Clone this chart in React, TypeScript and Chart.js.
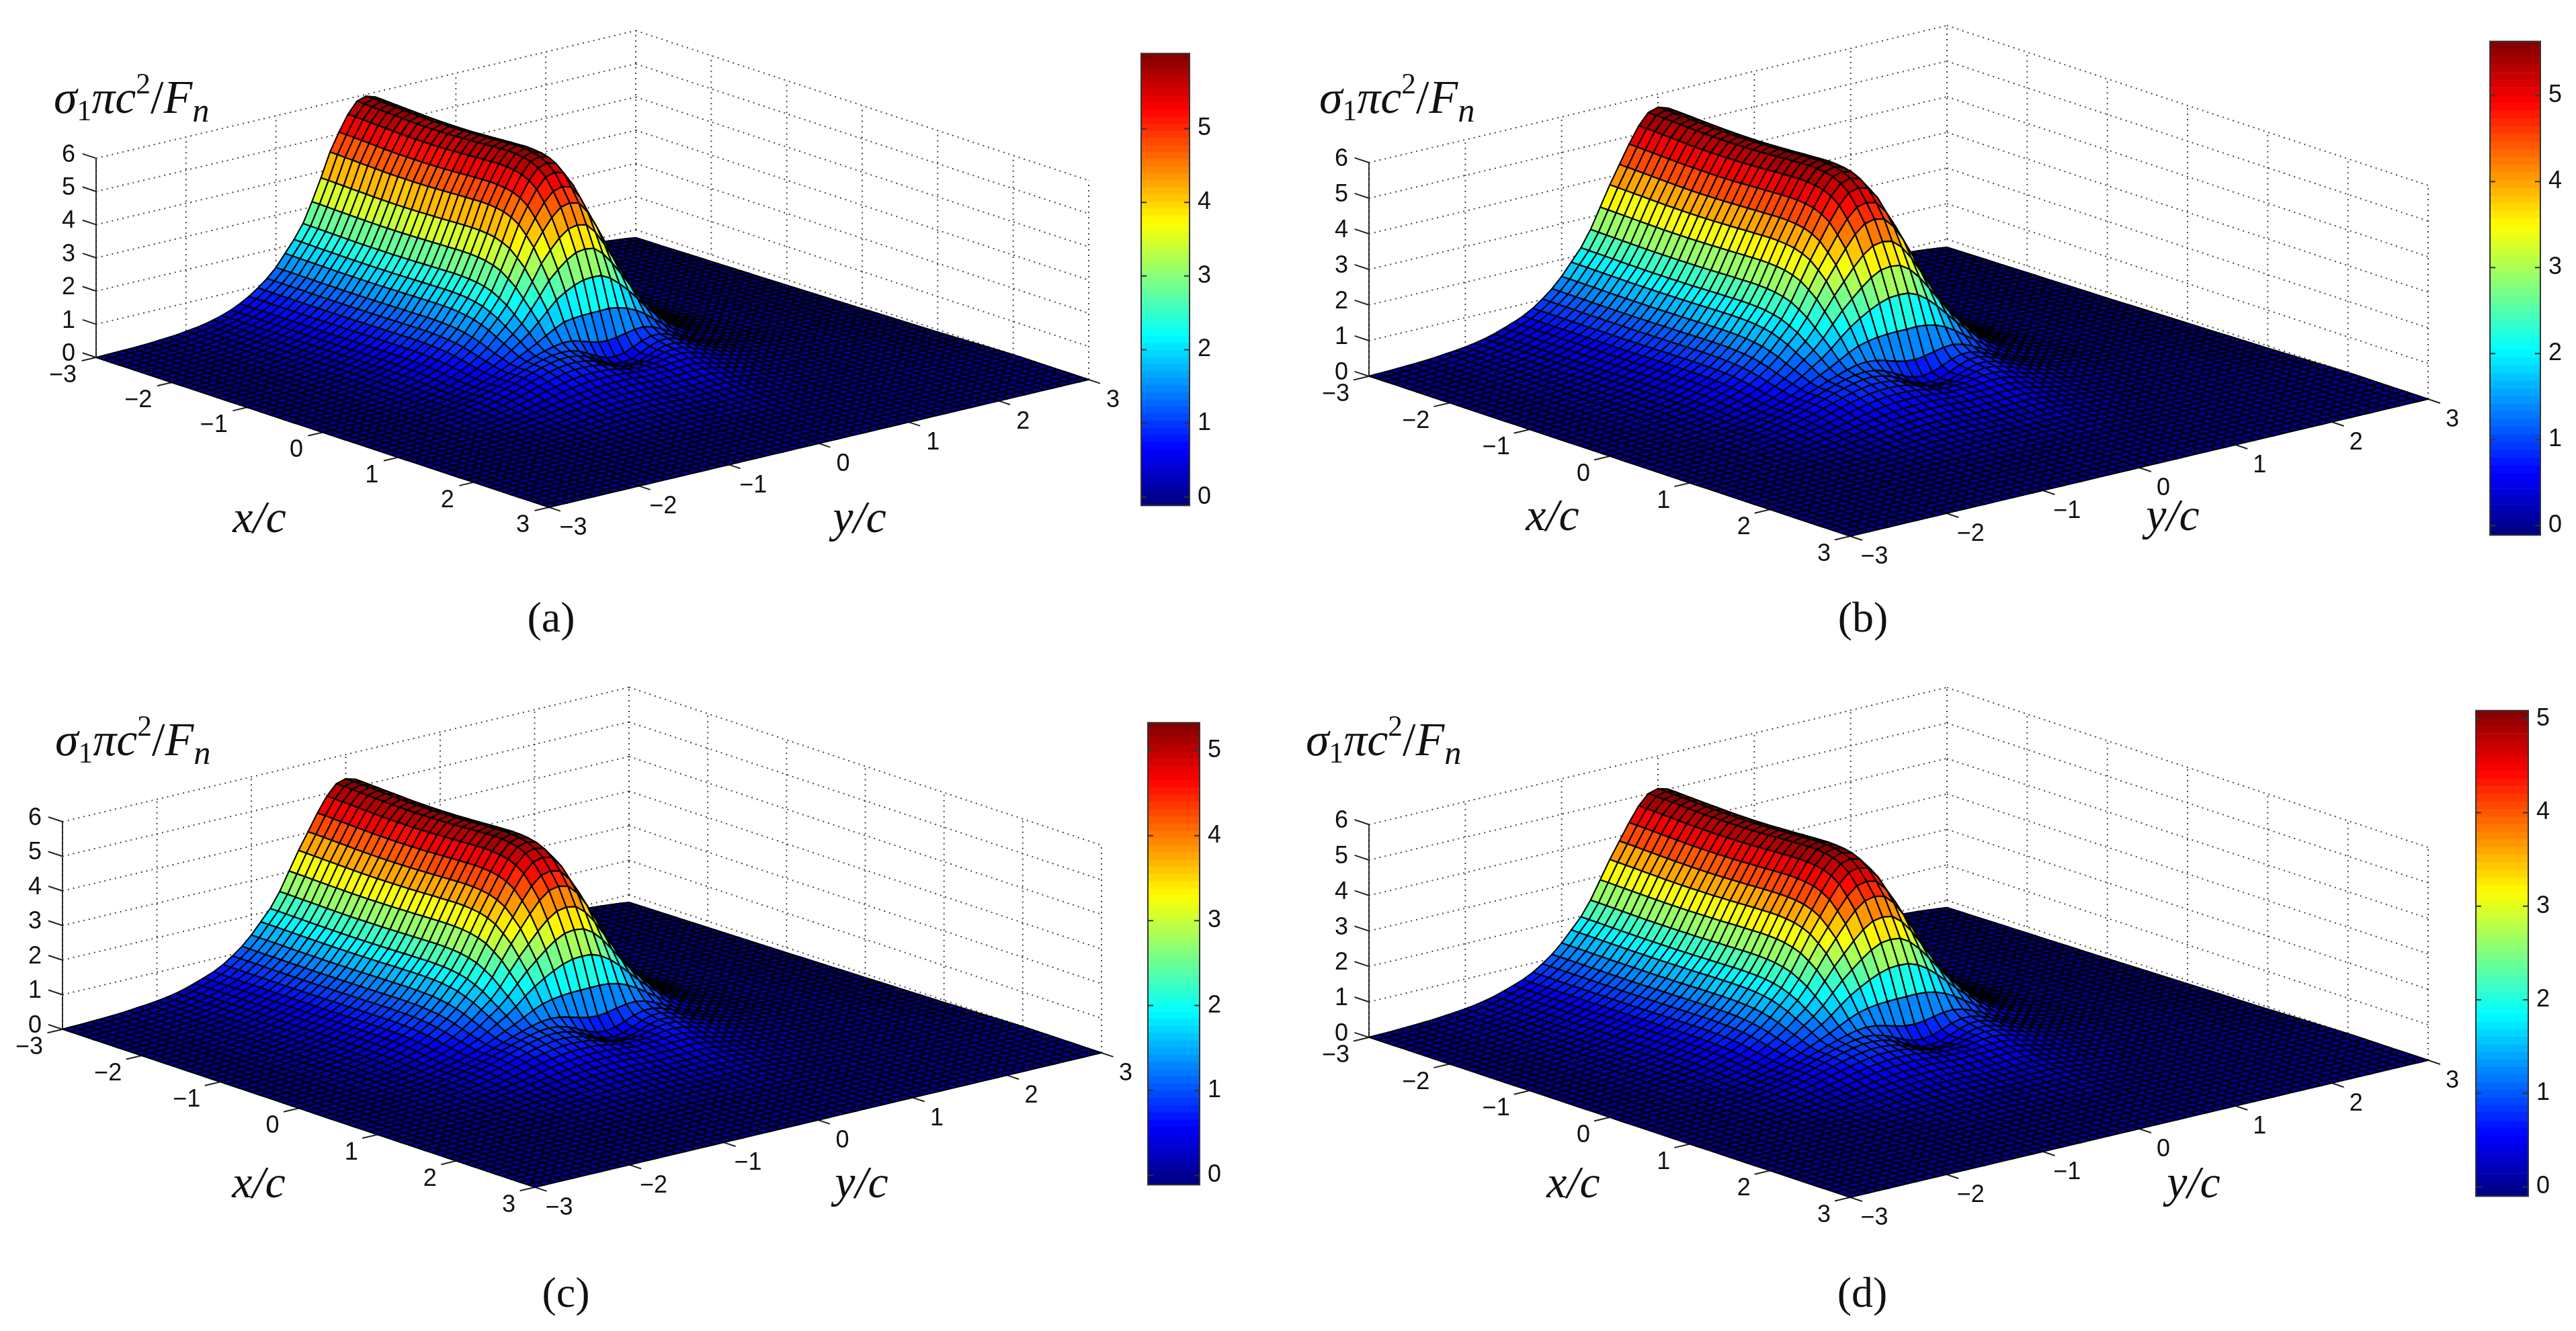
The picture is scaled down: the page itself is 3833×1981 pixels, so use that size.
import React, { useEffect, useRef } from "react";
import { Chart, registerables } from "chart.js";
Chart.register(...registerables);

const PAGE_W = 3833;
const PAGE_H = 1981;
const SERIF = '"Liberation Serif"';
const SANS = '"Liberation Sans"';

// Axis ticks as printed in the figure
const xyTicks = [-3, -2, -1, 0, 1, 2, 3];
const zTicks = [0, 1, 2, 3, 4, 5, 6];
const barTicks = [0, 1, 2, 3, 4, 5];

// Mesh stations (x/c and y/c), one every 0.1 from -3 to 3
const gridStations = [
  -3, -2.9, -2.8, -2.7, -2.6, -2.5, -2.4, -2.3, -2.2, -2.1, -2, -1.9, -1.8, -1.7, -1.6, -1.5, -1.4, -1.3, -1.2, -1.1,
  -1, -0.9, -0.8, -0.7, -0.6, -0.5, -0.4, -0.3, -0.2, -0.1, 0, 0.1, 0.2, 0.3, 0.4, 0.5, 0.6, 0.7, 0.8, 0.9, 1, 1.1,
  1.2, 1.3, 1.4, 1.5, 1.6, 1.7, 1.8, 1.9, 2, 2.1, 2.2, 2.3, 2.4, 2.5, 2.6, 2.7, 2.8, 2.9, 3,
];

// Ridge height read along x/c (share of the peak)
const ridgeAlongX = [
  1, 0.999, 0.997, 0.995, 0.993, 0.991, 0.989, 0.987, 0.986, 0.985, 0.985, 0.985, 0.986, 0.987, 0.989, 0.991, 0.993,
  0.996, 0.998, 1, 1.002, 1, 0.995, 0.985, 0.965, 0.93, 0.87, 0.8, 0.7, 0.59, 0.46, 0.3, 0.16, 0.085, 0.05, 0.03,
  0.02, 0.014, 0.01, 0.008, 0.006, 0.005, 0.004, 0.004, 0.003, 0.003, 0.002, 0.002, 0.002, 0.002, 0.001, 0.001, 0.001,
  0.001, 0.001, 0.001, 0.001, 0, 0, 0, 0,
];
// Ridge section read along y/c: panel (a)
const sectionA = [
  0, 0.001, 0.002, 0.003, 0.004, 0.006, 0.008, 0.011, 0.014, 0.018, 0.024, 0.03, 0.038, 0.049, 0.062, 0.079, 0.1,
  0.126, 0.158, 0.195, 0.24, 0.3, 0.36, 0.43, 0.53, 0.64, 0.76, 0.85, 0.93, 0.985, 1, 0.985, 0.91, 0.8, 0.68, 0.56,
  0.44, 0.35, 0.27, 0.205, 0.155, 0.115, 0.082, 0.058, 0.04, 0.025, 0.015, 0.008, 0.004, 0.002, 0.001, 0, 0, 0, 0, 0,
  0, 0, 0, 0, 0,
];
// Ridge section read along y/c: panels (b), (c), (d)
const sectionBCD = [
  0.001, 0.002, 0.003, 0.005, 0.007, 0.009, 0.012, 0.016, 0.021, 0.026, 0.032, 0.04, 0.05, 0.063, 0.08, 0.098, 0.118,
  0.145, 0.18, 0.22, 0.27, 0.33, 0.39, 0.47, 0.57, 0.67, 0.76, 0.85, 0.93, 0.985, 1, 0.985, 0.92, 0.82, 0.7, 0.58,
  0.47, 0.38, 0.3, 0.23, 0.175, 0.13, 0.095, 0.065, 0.045, 0.028, 0.016, 0.009, 0.005, 0.002, 0.001, 0, 0, 0, 0, 0, 0,
  0, 0, 0, 0,
];
// Two lobes ahead of the ridge end, along x/c and along y/c
const lobesAlongX = [
  0, 0, 0, 0, 0, 0, 0, 0, 0, 0, 0, 0, 0, 0, 0, 0, 0, 0, 0, 0, 0, 0, 0, 0, 0, 0.02, 0.05, 0.09, 0.15, 0.24, 0.38, 0.58,
  0.8, 0.95, 1, 0.97, 0.9, 0.8, 0.7, 0.6, 0.52, 0.44, 0.37, 0.31, 0.26, 0.21, 0.17, 0.14, 0.11, 0.09, 0.07, 0.055,
  0.045, 0.035, 0.027, 0.02, 0.015, 0.01, 0.006, 0.003, 0,
];
const lobesAlongY = [
  0, 0.005, 0.01, 0.015, 0.02, 0.03, 0.04, 0.055, 0.07, 0.09, 0.12, 0.15, 0.19, 0.24, 0.3, 0.37, 0.45, 0.54, 0.64, 0.74,
  0.83, 0.91, 0.97, 1, 0.97, 0.88, 0.72, 0.5, 0.27, 0.1, 0.05, 0.12, 0.3, 0.52, 0.7, 0.78, 0.76, 0.68, 0.58, 0.48, 0.39,
  0.31, 0.24, 0.19, 0.15, 0.12, 0.09, 0.07, 0.05, 0.04, 0.03, 0.02, 0.015, 0.01, 0.007, 0.005, 0.003, 0.002, 0.001, 0, 0,
];
const lobeShare = 0.15;
// The valley between the lobes closes beyond the small pit
const valleyAlongX = [
  0, 0, 0, 0, 0, 0, 0, 0, 0, 0, 0, 0, 0, 0, 0, 0, 0, 0, 0, 0, 0, 0, 0, 0, 0, 0, 0, 0, 0, 0, 0, 0, 0, 0.05, 0.2, 0.4, 0.6,
  0.7, 0.72, 0.68, 0.6, 0.5, 0.42, 0.35, 0.29, 0.23, 0.18, 0.15, 0.12, 0.09, 0.07, 0.055, 0.045, 0.035, 0.027, 0.02,
  0.015, 0.01, 0.006, 0.003, 0,
];
const valleyAlongY = [
  0, 0, 0, 0, 0, 0, 0, 0, 0, 0, 0, 0, 0, 0, 0, 0, 0, 0, 0, 0, 0, 0, 0, 0.02, 0.07, 0.18, 0.35, 0.55, 0.75, 0.9, 1, 0.9,
  0.75, 0.55, 0.35, 0.18, 0.07, 0.02, 0, 0, 0, 0, 0, 0, 0, 0, 0, 0, 0, 0, 0, 0, 0, 0, 0, 0, 0, 0, 0, 0, 0,
];
const valleyShare = 0.12;
// The far rim sits slightly below the floor line near the back corner
const rimAlongX = [
  1, 0.985, 0.97, 0.955, 0.94, 0.925, 0.91, 0.895, 0.88, 0.865, 0.85, 0.835, 0.82, 0.805, 0.79, 0.775, 0.76, 0.745, 0.73,
  0.715, 0.7, 0.68, 0.66, 0.64, 0.62, 0.6, 0.58, 0.56, 0.54, 0.52, 0.5, 0.48, 0.46, 0.44, 0.42, 0.4, 0.38, 0.36, 0.34,
  0.32, 0.3, 0.27, 0.24, 0.21, 0.18, 0.15, 0.12, 0.09, 0.06, 0.03, 0.01, 0, 0, 0, 0, 0, 0, 0, 0, 0, 0,
];
const rimAlongY = [
  0, 0, 0, 0, 0, 0, 0, 0, 0, 0, 0, 0, 0, 0, 0, 0, 0, 0, 0, 0, 0, 0, 0, 0, 0, 0, 0, 0, 0, 0, 0, 0, 0, 0, 0, 0, 0, 0, 0, 0,
  0, 0, 0, 0, 0, 0.01, 0.02, 0.04, 0.06, 0.08, 0.11, 0.15, 0.2, 0.26, 0.33, 0.41, 0.5, 0.6, 0.72, 0.85, 1,
];
const rimShare = 0.04;

// Peak value and colour range of each panel
const panelNames = ["(a)", "(b)", "(c)", "(d)"];
const panelPeaks = [5.95, 5.63, 5.3, 5.08];
const barMins = [-0.115, -0.11, -0.11, -0.1];
const barMaxes = [6.02, 5.63, 5.33, 5.09];

// Layout of each panel, in page pixels
const layouts = [
  { L: [143, 532], F: [817, 755], B: [946, 342], zs: 49.4, bar: [1698, 1770, 78, 754], title: [80, 168], xc: [386, 792], yc: [1279, 792], cap: [820, 940] },
  { L: [2037, 560], F: [2753, 798], B: [2897, 356], zs: 53, bar: [3705, 3780, 60, 798], title: [1963, 168], xc: [2310, 789], yc: [3233, 789], cap: [2772, 940] },
  { L: [93, 1532], F: [796, 1767], B: [936, 1332], zs: 51.5, bar: [1708, 1785, 1074, 1765], title: [82, 1124], xc: [385, 1782], yc: [1282, 1782], cap: [842, 1945] },
  { L: [2037, 1544], F: [2753, 1782], B: [2897, 1340], zs: 52.8, bar: [3684, 3762, 1056, 1782], title: [1943, 1124], xc: [2341, 1782], yc: [3264, 1782], cap: [2771, 1945] },
];

const project = (p: any, x: number, y: number, z: number) => ({
  x: p.L[0] + ((x + 3) / 6) * (p.F[0] - p.L[0]) + ((y + 3) / 6) * (p.B[0] - p.L[0]),
  y: p.L[1] + ((x + 3) / 6) * (p.F[1] - p.L[1]) + ((y + 3) / 6) * (p.B[1] - p.L[1]) - z * p.zs,
});

const clamp01 = (v: number) => Math.max(0, Math.min(1, v));
const jet = (v: number, lo: number, hi: number) => {
  const k = Math.max(0, Math.min(63, Math.floor(((v - lo) / (hi - lo)) * 64)));
  const t = (k + 0.5) / 64;
  const r = clamp01(Math.min(4 * t - 1.5, -4 * t + 4.5));
  const g = clamp01(Math.min(4 * t - 0.5, -4 * t + 3.5));
  const b = clamp01(Math.min(4 * t + 0.5, -4 * t + 2.5));
  return `rgb(${Math.round(r * 255)},${Math.round(g * 255)},${Math.round(b * 255)})`;
};

const surfaceHeight = (panel: number, i: number, j: number) => {
  const section = panel === 0 ? sectionA : sectionBCD;
  return (
    panelPeaks[panel] *
    (ridgeAlongX[i] * section[j] +
      lobeShare * lobesAlongX[i] * lobesAlongY[j] +
      valleyShare * valleyAlongX[i] * valleyAlongY[j] -
      rimShare * rimAlongX[i] * rimAlongY[j])
  );
};

const GAP = { x: NaN, y: NaN };

const wallPoints = (p: any) => {
  const out: any[] = [];
  const seg = (a: number[], b: number[]) => {
    out.push(project(p, a[0], a[1], a[2]), project(p, b[0], b[1], b[2]), GAP);
  };
  zTicks.forEach((z) => {
    seg([-3, -3, z], [-3, 3, z]);
    seg([-3, 3, z], [3, 3, z]);
  });
  xyTicks.forEach((t) => {
    seg([-3, t, 0], [-3, t, 6]);
    seg([t, 3, 0], [t, 3, 6]);
  });
  return out;
};

const tickPoints = (p: any) => {
  const out: any[] = [];
  zTicks.forEach((z) => out.push(project(p, -3, -3, z), project(p, -3.18, -3, z), GAP));
  xyTicks.forEach((t) => {
    out.push(project(p, t, -3, 0), project(p, t, -3.16, 0), GAP);
    out.push(project(p, 3, t, 0), project(p, 3.15, t, 0), GAP);
  });
  out.push(project(p, -3, -3, 0), project(p, -3, -3, 6));
  return out;
};

const surfacePoints = (panel: number) => {
  const out: any[] = [];
  gridStations.forEach((x, i) => {
    gridStations.forEach((y, j) => {
      const z = surfaceHeight(panel, i, j);
      out.push({ ...project(layouts[panel], x, y, z), z });
    });
  });
  return out;
};

const minusText = (v: number) => (v < 0 ? "\u2212" + Math.abs(v) : String(v));

const titlePieces = [
  { t: "\u03C3", it: true, s: 1, d: 0 },
  { t: "1", it: false, s: 0.62, d: 0.15 },
  { t: "\u03C0", it: true, s: 1, d: 0 },
  { t: "c", it: true, s: 1, d: 0 },
  { t: "2", it: false, s: 0.62, d: -0.42 },
  { t: "/", it: false, s: 1, d: 0 },
  { t: "F", it: true, s: 1, d: 0 },
  { t: "n", it: true, s: 0.72, d: 0.18 },
];

const surfacePlugin = {
  id: "surfacePlugin",
  afterDatasetsDraw(chart: any) {
    const ctx = chart.ctx;
    const n = gridStations.length;
    chart.data.datasets.forEach((ds: any, di: number) => {
      if (ds.surfacePanel === undefined) return;
      const pts = chart.getDatasetMeta(di).data;
      const raw = ds.data;
      const lo = barMins[ds.surfacePanel];
      const hi = barMaxes[ds.surfacePanel];
      ctx.save();
      ctx.lineWidth = 2.1;
      ctx.strokeStyle = "#000";
      ctx.lineJoin = "round";
      for (let i = 0; i < n - 1; i++) {
        for (let j = n - 2; j >= 0; j--) {
          const a = i * n + j;
          const b = (i + 1) * n + j;
          const c = (i + 1) * n + j + 1;
          const d = i * n + j + 1;
          ctx.beginPath();
          ctx.moveTo(pts[a].x, pts[a].y);
          ctx.lineTo(pts[b].x, pts[b].y);
          ctx.lineTo(pts[c].x, pts[c].y);
          ctx.lineTo(pts[d].x, pts[d].y);
          ctx.closePath();
          ctx.fillStyle = jet((raw[a].z + raw[b].z + raw[c].z + raw[d].z) / 4, lo, hi);
          ctx.fill();
          ctx.stroke();
        }
      }
      ctx.restore();
    });
  },
  afterDraw(chart: any) {
    const ctx = chart.ctx;
    ctx.save();
    ctx.fillStyle = "#111";
    layouts.forEach((p: any, k: number) => {
      ctx.font = `36px ${SANS}`;
      ctx.textAlign = "center";
      ctx.textBaseline = "middle";
      zTicks.forEach((z) => {
        const q = project(p, -3, -3, z);
        ctx.fillText(String(z), q.x - 41, q.y - 5);
      });
      xyTicks.forEach((t) => {
        const q = project(p, t, -3, 0);
        ctx.textAlign = "right";
        ctx.fillText(minusText(t), q.x - 29, q.y + 27);
        const r = project(p, 3, t, 0);
        ctx.textAlign = "center";
        ctx.fillText(minusText(t), r.x + 36, r.y + 31);
      });
      ctx.textBaseline = "alphabetic";
      ctx.textAlign = "center";
      ctx.font = `italic 68px ${SERIF}`;
      ctx.fillText("x/c", p.xc[0], p.xc[1]);
      ctx.fillText("y/c", p.yc[0], p.yc[1]);
      ctx.font = `64px ${SERIF}`;
      ctx.fillText(panelNames[k], p.cap[0], p.cap[1]);
      ctx.textAlign = "left";
      let tx = p.title[0];
      const base = 70;
      titlePieces.forEach((q) => {
        const size = base * q.s;
        ctx.font = `${q.it ? "italic " : ""}${size}px ${SERIF}`;
        ctx.fillText(q.t, tx, p.title[1] + q.d * base);
        tx += ctx.measureText(q.t).width;
      });
    });
    ctx.restore();
  },
};

const barFramePlugin = {
  id: "barFrame",
  afterDraw(chart: any) {
    const { ctx, chartArea: a, scales } = chart;
    ctx.save();
    ctx.strokeStyle = "#333";
    ctx.lineWidth = 2;
    ctx.strokeRect(a.left, a.top, a.right - a.left, a.bottom - a.top);
    ctx.beginPath();
    barTicks.forEach((v) => {
      if (v > scales.y.max) return;
      const y = scales.y.getPixelForValue(v);
      ctx.moveTo(a.left, y);
      ctx.lineTo(a.left + 8, y);
      ctx.moveTo(a.right, y);
      ctx.lineTo(a.right - 8, y);
    });
    ctx.stroke();
    ctx.restore();
  },
};

export default function App() {
  const mainRef = useRef<HTMLCanvasElement | null>(null);
  const barRefs = useRef<(HTMLCanvasElement | null)[]>([]);

  useEffect(() => {
    const charts: Chart[] = [];
    const datasets: any[] = [];
    layouts.forEach((p, k) => {
      datasets.push({
        data: wallPoints(p),
        showLine: true,
        pointRadius: 0,
        borderColor: "#444",
        borderWidth: 2,
        borderDash: [2, 6],
        spanGaps: false,
      });
      datasets.push({
        data: tickPoints(p),
        showLine: true,
        pointRadius: 0,
        borderColor: "#222",
        borderWidth: 2,
        spanGaps: false,
      });
      datasets.push({ data: surfacePoints(k), surfacePanel: k, showLine: false, pointRadius: 0 });
    });
    charts.push(
      new Chart(mainRef.current as any, {
        type: "scatter",
        data: { datasets },
        plugins: [surfacePlugin as any],
        options: {
          responsive: false,
          animation: false,
          devicePixelRatio: 1,
          events: [],
          layout: { padding: 0 },
          plugins: { legend: { display: false }, tooltip: { enabled: false } },
          scales: {
            x: { type: "linear", min: 0, max: PAGE_W, display: false },
            y: { type: "linear", min: 0, max: PAGE_H, reverse: true, display: false },
          },
        },
      } as any)
    );

    layouts.forEach((p, k) => {
      const lo = barMins[k];
      const hi = barMaxes[k];
      const levels = Array.from({ length: 64 }, (_, i) => i);
      charts.push(
        new Chart(barRefs.current[k] as any, {
          type: "bar",
          data: {
            labels: ["colour"],
            datasets: levels.map((i) => ({
              data: [[lo + ((hi - lo) * i) / 64, lo + ((hi - lo) * (i + 1)) / 64]],
              backgroundColor: jet(lo + ((hi - lo) * (i + 0.5)) / 64, lo, hi),
              borderWidth: 0,
              barPercentage: 1,
              categoryPercentage: 1,
              grouped: false,
            })),
          },
          plugins: [barFramePlugin as any],
          options: {
            responsive: false,
            animation: false,
            devicePixelRatio: 1,
            events: [],
            layout: { padding: { left: 4, right: 0, top: 24, bottom: 24 } },
            plugins: { legend: { display: false }, tooltip: { enabled: false } },
            scales: {
              x: { display: false },
              y: {
                position: "right",
                min: lo,
                max: hi,
                grid: { display: false },
                border: { display: false },
                afterFit: (s: any) => {
                  s.width = 60;
                },
                afterBuildTicks: (s: any) => {
                  s.ticks = barTicks.filter((v) => v <= hi).map((value) => ({ value }));
                },
                ticks: {
                  autoSkip: false,
                  padding: 4,
                  color: "#111",
                  font: { family: "Liberation Sans", size: 36 },
                },
              },
            },
          },
        } as any)
      );
    });
    return () => charts.forEach((c) => c.destroy());
  }, []);

  return (
    <div style={{ position: "fixed", left: 0, top: 0, width: PAGE_W, height: PAGE_H, background: "#fff", overflow: "hidden" }}>
      <canvas
        ref={mainRef}
        width={PAGE_W}
        height={PAGE_H}
        style={{ position: "absolute", left: 0, top: 0, width: PAGE_W, height: PAGE_H, filter: "blur(0.7px)" }}
      />
      {layouts.map((p, k) => {
        const w = p.bar[1] - p.bar[0] + 4 + 60;
        const h = p.bar[3] - p.bar[2] + 48;
        return (
          <canvas
            key={k}
            ref={(el) => {
              barRefs.current[k] = el;
            }}
            width={w}
            height={h}
            style={{ position: "absolute", left: p.bar[0] - 4, top: p.bar[2] - 24, width: w, height: h, filter: "blur(0.7px)" }}
          />
        );
      })}
    </div>
  );
}
